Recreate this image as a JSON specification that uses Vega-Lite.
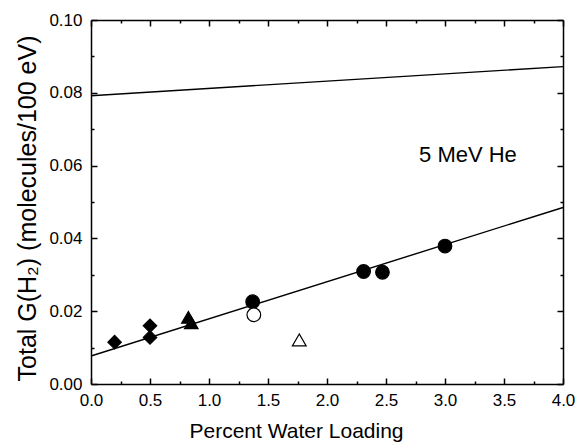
{
  "$schema": "https://vega.github.io/schema/vega-lite/v6.json",
  "width": 472,
  "height": 364,
  "autosize": {"type": "none"},
  "padding": {"left": 91, "top": 20, "right": 14, "bottom": 60},
  "background": "white",
  "config": {
    "font": "Liberation Sans",
    "view": {"stroke": null},
    "axis": {
      "grid": false,
      "labelFont": "Liberation Sans",
      "titleFont": "Liberation Sans",
      "labelColor": "black",
      "titleColor": "black",
      "titleFontWeight": "normal",
      "domainColor": "black",
      "tickColor": "black",
      "domainWidth": 1.5,
      "tickWidth": 1.5,
      "labelFontSize": 17
    }
  },
  "datasets": {
    "lines": [
      {"fit": "upper", "water": 0, "g": 0.0792},
      {"fit": "upper", "water": 4, "g": 0.0872},
      {"fit": "lower", "water": 0, "g": 0.0077},
      {"fit": "lower", "water": 4, "g": 0.0485}
    ],
    "points": [
      {"series": "S1", "fill": "solid", "water": 0.2, "g": 0.0115},
      {"series": "S1", "fill": "solid", "water": 0.5, "g": 0.016},
      {"series": "S1", "fill": "solid", "water": 0.5, "g": 0.0128},
      {"series": "S2", "fill": "solid", "water": 0.825, "g": 0.0183},
      {"series": "S2", "fill": "solid", "water": 0.85, "g": 0.0168},
      {"series": "S3", "fill": "solid", "water": 1.37, "g": 0.0226},
      {"series": "S3", "fill": "solid", "water": 2.31, "g": 0.0309},
      {"series": "S3", "fill": "solid", "water": 2.47, "g": 0.0307},
      {"series": "S3", "fill": "solid", "water": 3.0, "g": 0.0379},
      {"series": "S4", "fill": "hollow", "water": 1.38, "g": 0.019},
      {"series": "S5", "fill": "hollow", "water": 1.765, "g": 0.0121}
    ],
    "labels": [
      {"label": "5 MeV He", "water": 2.78, "g": 0.0629}
    ]
  },
  "layer": [
    {
      "data": {"name": "lines"},
      "mark": {"type": "line", "color": "black", "strokeWidth": 1.4},
      "encoding": {
        "x": {
          "field": "water", "type": "quantitative",
          "scale": {"domain": [0, 4], "nice": false, "zero": false},
          "axis": {
            "orient": "bottom",
            "values": [0, 0.5, 1, 1.5, 2, 2.5, 3, 3.5, 4],
            "format": ".1f",
            "tickSize": -6,
            "labelPadding": 14,
            "labelFlush": false,
            "labelOverlap": false,
            "title": "Percent Water Loading",
            "titleFontSize": 21,
            "titlePadding": 12,
            "titleX": 205,
            "titleAlign": "center",
            "titleAnchor": null
          }
        },
        "y": {
          "field": "g", "type": "quantitative",
          "scale": {"domain": [0, 0.1], "nice": false, "zero": false},
          "axis": {
            "orient": "left",
            "values": [0, 0.02, 0.04, 0.06, 0.08, 0.1],
            "format": ".2f",
            "tickSize": -6,
            "labelPadding": 15,
            "labelFlush": false,
            "labelOverlap": false,
            "title": "Total G(H₂) (molecules/100 eV)",
            "titleFontSize": 25,
            "titlePadding": 8,
            "titleY": 188,
            "titleAlign": "center",
            "titleAnchor": null
          }
        },
        "detail": {"field": "fit"}
      }
    },
    {
      "data": {"name": "points"},
      "transform": [{"filter": "datum.fill === 'solid'"}],
      "mark": {"type": "point", "stroke": "black", "strokeWidth": 1.2, "opacity": 1},
      "encoding": {
        "x": {
          "field": "water", "type": "quantitative",
          "scale": {"domain": [0, 4], "nice": false, "zero": false},
          "axis": {
            "orient": "bottom",
            "values": [0.25, 0.75, 1.25, 1.75, 2.25, 2.75, 3.25, 3.75],
            "tickSize": -3,
            "labels": false,
            "domain": false,
            "title": null
          }
        },
        "y": {
          "field": "g", "type": "quantitative",
          "scale": {"domain": [0, 0.1], "nice": false, "zero": false},
          "axis": {
            "orient": "left",
            "values": [0.01, 0.03, 0.05, 0.07, 0.09],
            "tickSize": -3,
            "labels": false,
            "domain": false,
            "title": null
          }
        },
        "shape": {
          "field": "series", "type": "nominal",
          "scale": {"domain": ["S1", "S2", "S3", "S4", "S5"], "range": ["diamond", "triangle-up", "circle", "circle", "triangle-up"]},
          "legend": null
        },
        "fill": {
          "field": "fill", "type": "nominal",
          "scale": {"domain": ["solid", "hollow"], "range": ["black", "white"]},
          "legend": null
        },
        "size": {
          "field": "series", "type": "nominal",
          "scale": {"domain": ["S1", "S2", "S3", "S4", "S5"], "range": [180, 190, 100, 90, 165]},
          "legend": null
        }
      }
    },
    {
      "data": {"name": "points"},
      "transform": [{"filter": "datum.fill === 'hollow'"}],
      "mark": {"type": "point", "stroke": "black", "strokeWidth": 1.2, "opacity": 1},
      "encoding": {
        "x": {
          "field": "water", "type": "quantitative",
          "scale": {"domain": [0, 4], "nice": false, "zero": false},
          "axis": {
            "orient": "top",
            "values": [0.25, 0.75, 1.25, 1.75, 2.25, 2.75, 3.25, 3.75],
            "tickSize": -3,
            "labels": false,
            "domain": false,
            "title": null
          }
        },
        "y": {
          "field": "g", "type": "quantitative",
          "scale": {"domain": [0, 0.1], "nice": false, "zero": false},
          "axis": {
            "orient": "right",
            "values": [0.01, 0.03, 0.05, 0.07, 0.09],
            "tickSize": -3,
            "labels": false,
            "domain": false,
            "title": null
          }
        },
        "shape": {
          "field": "series", "type": "nominal",
          "scale": {"domain": ["S1", "S2", "S3", "S4", "S5"], "range": ["diamond", "triangle-up", "circle", "circle", "triangle-up"]},
          "legend": null
        },
        "fill": {
          "field": "fill", "type": "nominal",
          "scale": {"domain": ["solid", "hollow"], "range": ["black", "white"]},
          "legend": null
        },
        "size": {
          "field": "series", "type": "nominal",
          "scale": {"domain": ["S1", "S2", "S3", "S4", "S5"], "range": [180, 190, 100, 90, 165]},
          "legend": null
        }
      }
    },
    {
      "data": {"name": "labels"},
      "mark": {"type": "text", "align": "left", "baseline": "middle", "fontSize": 22, "font": "Liberation Sans", "color": "black"},
      "encoding": {
        "x": {
          "field": "water", "type": "quantitative",
          "scale": {"domain": [0, 4], "nice": false, "zero": false},
          "axis": {
            "orient": "top",
            "values": [0, 0.5, 1, 1.5, 2, 2.5, 3, 3.5, 4],
            "tickSize": -6,
            "labels": false,
            "title": null
          }
        },
        "y": {
          "field": "g", "type": "quantitative",
          "scale": {"domain": [0, 0.1], "nice": false, "zero": false},
          "axis": {
            "orient": "right",
            "values": [0, 0.02, 0.04, 0.06, 0.08, 0.1],
            "tickSize": -6,
            "labels": false,
            "title": null
          }
        },
        "text": {"field": "label"}
      }
    }
  ],
  "resolve": {"axis": {"x": "independent", "y": "independent"}}
}
